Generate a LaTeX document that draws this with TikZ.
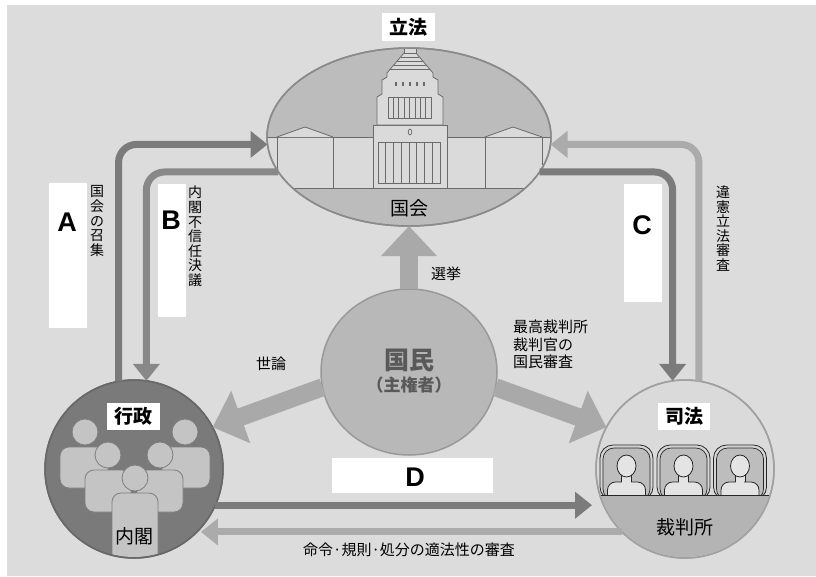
\documentclass[tikz,border=0pt]{standalone}
\usepackage{fontspec}
\newfontfamily\jp{Noto Sans CJK JP}
\newfontfamily\lat{Liberation Sans}
\usetikzlibrary{arrows.meta,shapes.geometric,calc}
\definecolor{bg}{HTML}{DCDCDC}
\definecolor{ellfill}{HTML}{BCBCBC}
\definecolor{ellstroke}{HTML}{8A8A8A}
\definecolor{bldfill}{HTML}{DADADA}
\definecolor{bldline}{HTML}{6A6A6A}
\definecolor{kmfill}{HTML}{B8B8B8}
\definecolor{kmstroke}{HTML}{999999}
\definecolor{kmtext}{HTML}{595959}
\definecolor{bigarr}{HTML}{A9A9A9}
\definecolor{gyfill}{HTML}{7A7A7A}
\definecolor{gystroke}{HTML}{686868}
\definecolor{pfill}{HTML}{C4C4C4}
\definecolor{pline}{HTML}{7E7E7E}
\definecolor{shfill}{HTML}{DADADA}
\definecolor{shstroke}{HTML}{A0A0A0}
\definecolor{shlow}{HTML}{B4B4B4}
\definecolor{chairout}{HTML}{D4D4D4}
\definecolor{chairin}{HTML}{BDBDBD}
\definecolor{judgefill}{HTML}{E4E4E4}
\definecolor{conndark}{HTML}{7B7B7B}
\definecolor{connlight}{HTML}{ABABAB}
\begin{document}
\begin{tikzpicture}[x=1pt,y=-1pt,
  lbl/.style={font=\jp\fontsize{15pt}{17.5pt}\selectfont, inner sep=0, align=left},
  vlbl/.style={font=\jp\fontsize{14pt}{14.6pt}\selectfont, align=center, inner sep=0},
  wbox/.style={fill=white, inner sep=0, outer sep=0},
  titlelbl/.style={font=\jp\bfseries\fontsize{19pt}{20pt}\selectfont, inner sep=0},
  nmlbl/.style={font=\jp\fontsize{19pt}{20pt}\selectfont, inner sep=0},
  letterlbl/.style={font=\lat\bfseries\fontsize{27pt}{28pt}\selectfont, inner sep=0},
  bigarrow/.style={draw=bigarr, line width=18pt, -{Triangle[width=54pt,length=30pt]}},
  conn/.style={line width=7pt, rounded corners=18pt, -{Triangle[width=26pt,length=17pt]}},
  bld/.style={fill=bldfill, draw=bldline, line width=0.8pt},
  person/.style={fill=pfill, draw=pline, line width=0.8pt},
  judge/.style={fill=judgefill, draw=black!85, line width=0.8pt}]
\useasboundingbox (0,0) rectangle (816,576);
\fill[white] (0,0) rectangle (816,576);
\fill[bg] (7,5) rectangle (816,576);

% main nodes
\node[ellipse, fill=ellfill, draw=ellstroke, line width=1.5pt, minimum width=284pt, minimum height=178pt, inner sep=0, outer sep=0] (kokkai) at (409,137) {};
\node[ellipse, fill=kmfill, draw=kmstroke, line width=1.5pt, minimum width=176pt, minimum height=166pt, inner sep=0, outer sep=0] (kokumin) at (409,372) {};
\node[circle, fill=gyfill, draw=gystroke, line width=1.5pt, minimum size=178pt, inner sep=0, outer sep=0] (gyousei) at (134,469) {};
\node[circle, fill=shfill, draw=shstroke, line width=1.5pt, minimum size=178pt, inner sep=0, outer sep=0] (shihou) at (685,469) {};

% Diet building
\begin{scope}
  \clip (kokkai.center) ellipse [x radius=141pt, y radius=88pt];
  \fill[bldfill] (260,137) rectangle (560,188);
  \draw[bldline, line width=0.8pt] (260,137) -- (560,137) (260,188) -- (560,188);
  \filldraw[bld] (277,137) -- (305,127) -- (333,137);
  \filldraw[bld] (485,137) -- (513,127) -- (542,137);
  \foreach \vx in {277,333,485,542} \draw[bldline, line width=0.8pt] (\vx,137) -- (\vx,188);
  \filldraw[bld] (373,125) rectangle (447,188);
  \filldraw[bld] (377,125) -- (377,97) -- (382,94) -- (382,80) -- (387,77) -- (387,73)
     -- (404,53) -- (416,53) -- (433,73) -- (433,77) -- (438,80) -- (438,94) -- (443,97) -- (443,125) -- cycle;
  \filldraw[bld] (404,48) rectangle (416,53);
  \foreach \py in {57,61,65,69} {
    \pgfmathsetmacro{\dx}{(\py-53)*17/20}
    \draw[bldline, line width=0.7pt] ({404-\dx},\py) -- ({416+\dx},\py);
  }
  \foreach \dxx in {396,403,410,417,424} \fill[bldline] (\dxx-1,82) rectangle (\dxx+1,85.5);
  \draw[bldline, line width=0.8pt] (388,97) rectangle (431,118);
  \foreach \k in {1,...,7} \draw[bldline, line width=0.7pt] ({388+\k*43/8},97) -- ({388+\k*43/8},118);
  \draw[bldline, line width=0.8pt] (378,142) rectangle (440,183);
  \foreach \k in {1,...,7} \draw[bldline, line width=0.8pt] ({378+\k*62/8},142) -- ({378+\k*62/8},183);
  \draw[bldline, line width=0.7pt] (410,132) ellipse [x radius=1.8pt, y radius=3pt];
\end{scope}
\draw[ellstroke, line width=1.5pt] (kokkai.center) ellipse [x radius=142pt, y radius=89pt];

% Cabinet people
\begin{scope}
  \clip (gyousei.center) circle (88pt);
  \foreach \hx/\hy/\bl/\br/\bt/\bb in {85/432/60/108/447/488, 185/432/162/210/447/488, 108/455/85/131/470/512, 160/455/137/183/470/512, 135/478/112/158/493/570} {
    \filldraw[person, rounded corners=9pt] (\bl,\bb) rectangle (\br,\bt);
    \filldraw[person] (\hx,\hy) circle (13pt);
  }
\end{scope}
\draw[gystroke, line width=1.5pt] (gyousei.center) circle (89pt);

% Court judges
\begin{scope}
  \clip (shihou.center) circle (88pt);
  \foreach \cx in {626.5,683.5,740} {
    \filldraw[fill=chairout, draw=black!85, line width=0.8pt, rounded corners=13pt] (\cx-26.5,500) rectangle (\cx+26.5,445);
    \filldraw[fill=chairin, draw=black!85, line width=0.7pt, rounded corners=11pt] (\cx-23.5,500) rectangle (\cx+23.5,448);
    \filldraw[judge] (\cx-5,474) rectangle (\cx+5,485);
    \filldraw[judge, rounded corners=8pt] (\cx-19,505) rectangle (\cx+19,482);
    \fill[judgefill] (\cx-4.2,476) rectangle (\cx+4.2,483);
    \filldraw[judge] (\cx,466) ellipse [x radius=9.5pt, y radius=11pt];
  }
  \fill[shlow] (590,495) rectangle (780,560);
  \draw[black!85, line width=1pt] (590,495) -- (780,495);
\end{scope}
\draw[shstroke, line width=1.5pt] (shihou.center) circle (89pt);

% big arrows from the people
\draw[bigarrow] (kokumin.north) -- (kokkai.south);
\draw[bigarrow] (kokumin.190) -- (gyousei.28);
\draw[bigarrow] (kokumin.350) -- (shihou.152);

% connectors
\draw[conn, draw=conndark] (gyousei.100) |- (kokkai.183);
\draw[conn, draw=conndark!90!white] (kokkai.195) -| (gyousei.82);
\draw[conn, draw=conndark] (kokkai.345) -| (shihou.98);
\draw[conn, draw=connlight] (shihou.81) |- (kokkai.357);
\draw[conn, draw=conndark, shorten >=4pt] (gyousei.336) -- (gyousei.336 -| shihou.west);
\draw[conn, draw=connlight, shorten >=4pt] (shihou.225) -- (gyousei.315);

% titles
\node[wbox, minimum width=53pt, minimum height=28pt] (boxR) at (408.5,27) {};
\node[titlelbl] (titleR) at (408.5,27) {立法};
\node[wbox, minimum width=53pt, minimum height=27pt] (boxG) at (133.5,416.5) {};
\node[titlelbl] (titleG) at (133.5,416.5) {行政};
\node[wbox, minimum width=52pt, minimum height=27pt] (boxS) at (684,416.5) {};
\node[titlelbl] (titleS) at (684,416.5) {司法};

\node[nmlbl] (nKokkai) at (409,208) {国会};
\node[nmlbl] (nNaikaku) at (134,536) {内閣};
\node[nmlbl] (nSaiban) at (685,527) {裁判所};

\node[font=\jp\bfseries\fontsize{25pt}{26pt}\selectfont, text=kmtext, inner sep=0] (nKokumin) at (409,360) {国民};
\node[font=\jp\bfseries\fontsize{17pt}{18pt}\selectfont, text=kmtext, inner sep=0] (nShuken) at (409,385) {（主権者）};

% small labels
\node[lbl] (lSenkyo) at (446,274) {選挙};
\node[lbl] (lYoron) at (271,364) {世論};
\node[lbl, anchor=north west] (lKokumin) at (513,320) {最高裁判所\\裁判官の\\国民審査};
\node[lbl] (lMeirei) at (409,550) {命令·規則·処分の適法性の審査};

% vertical labels
\node[vlbl] (vA) at (97,221) {国\\会\\の\\召\\集};
\node[vlbl] (vB) at (195,236.5) {内\\閣\\不\\信\\任\\決\\議};
\node[vlbl] (vC) at (723,228.5) {違\\憲\\立\\法\\審\\査};

% answer boxes
\node[wbox, minimum width=38pt, minimum height=145pt] (boxA) at (68,255.5) {};
\node[letterlbl] (letA) at (67,222) {A};
\node[wbox, minimum width=28pt, minimum height=133pt] (boxB) at (172,250.5) {};
\node[letterlbl] (letB) at (171,220) {B};
\node[wbox, minimum width=38pt, minimum height=118pt] (boxC) at (643,243) {};
\node[letterlbl] (letC) at (642,225) {C};
\node[wbox, minimum width=161pt, minimum height=35pt] (boxD) at (412.5,475.5) {};
\node[letterlbl] (letD) at (415,477) {D};
\end{tikzpicture}
\end{document}
